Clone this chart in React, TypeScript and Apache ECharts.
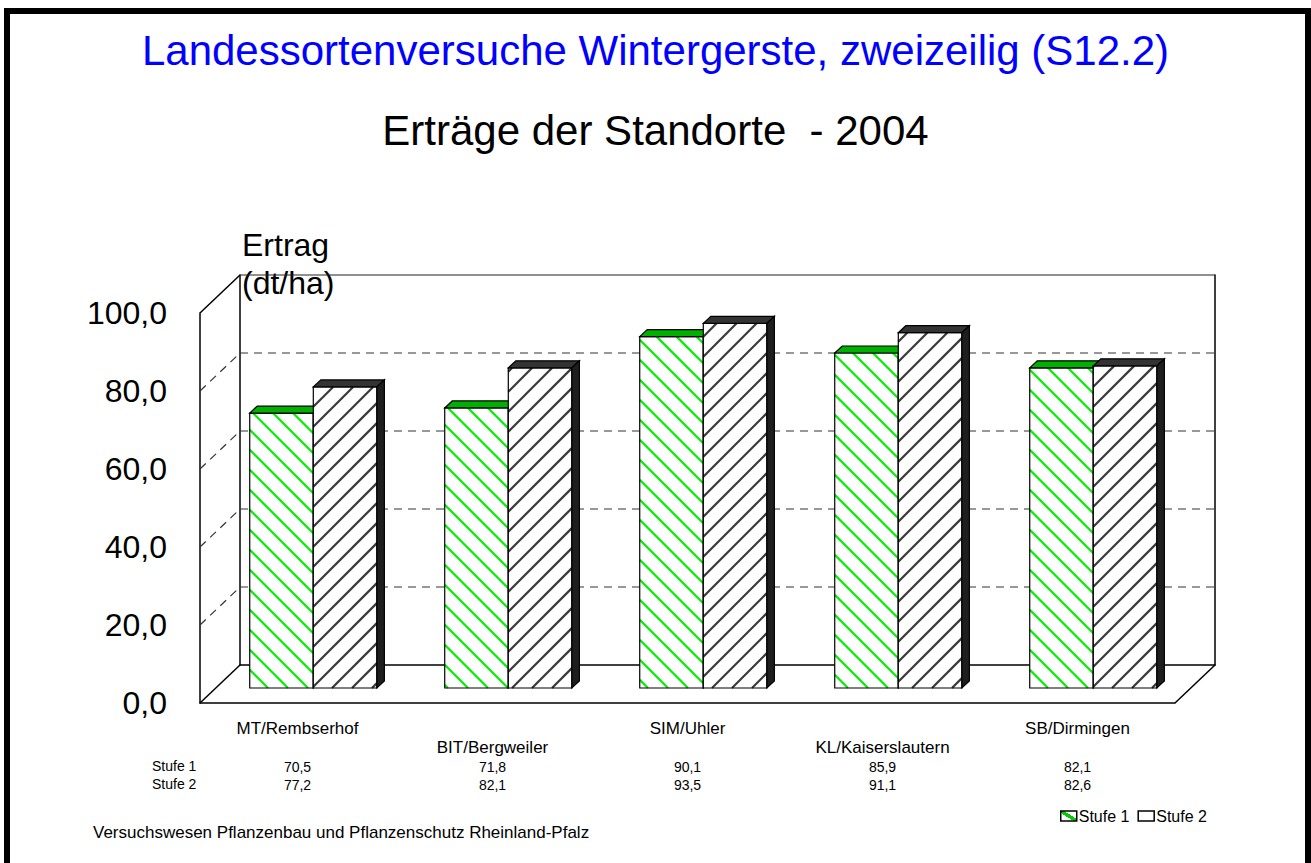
import React, { useEffect, useRef } from 'react';
import * as echarts from 'echarts';

const categories = ['MT/Rembserhof', 'BIT/Bergweiler', 'SIM/Uhler', 'KL/Kaiserslautern', 'SB/Dirmingen'];
const stufe1 = [70.5, 71.8, 90.1, 85.9, 82.1];
const stufe2 = [77.2, 82.1, 93.5, 91.1, 82.6];
const seriesNames = ['Stufe 1', 'Stufe 2'];
const yTicks = [0, 20, 40, 60, 80, 100];
const titleText = 'Landessortenversuche Wintergerste, zweizeilig (S12.2)';
const subtitleText = 'Erträge der Standorte  - 2004';
const yAxisTitle = ['Ertrag', '(dt/ha)'];
const footerText = 'Versuchswesen Pflanzenbau und Pflanzenschutz Rheinland-Pfalz';

const FONT = '"Liberation Sans", Arial, Helvetica, sans-serif';
const FRONT = { left: 200, top: 313, width: 975, height: 390 };
const DX = 40;
const DY = -38;
const FB = 0.395; // depth fraction of the bar plane
const BDX = 7.5;
const BDY = -7;
const BAR_FRAC = 0.326;
const HATCH = 20;

const fmt = (v: number) => v.toFixed(1).replace('.', ',');

function hatchLines(x0: number, y0: number, x1: number, y1: number, dir: 'back' | 'fwd', s: number) {
  const out: number[][] = [];
  if (dir === 'back') {
    const cMin = y0 - x1, cMax = y1 - x0;
    for (let c = Math.ceil(cMin / s) * s; c <= cMax; c += s) {
      const lo = Math.max(x0, y0 - c), hi = Math.min(x1, y1 - c);
      if (hi - lo > 0.5) out.push([lo, lo + c, hi, hi + c]);
    }
  } else {
    const cMin = x0 + y0, cMax = x1 + y1;
    for (let c = Math.ceil(cMin / s) * s; c <= cMax; c += s) {
      const lo = Math.max(x0, c - y1), hi = Math.min(x1, c - y0);
      if (hi - lo > 0.5) out.push([lo, c - lo, hi, c - hi]);
    }
  }
  return out;
}

const seriesStyle = [
  { hatch: '#00F000', dir: 'back' as const, top: '#00B000', side: '#008800' },
  { hatch: '#3A3A3A', dir: 'fwd' as const, top: '#333333', side: '#1E1E1E' },
];

function makeBarRender(si: number) {
  return (params: any, api: any) => {
    const idx = api.value(0);
    const val = api.value(1);
    const [cx, yt] = api.coord([idx, val]);
    const yb = api.coord([idx, 0])[1];
    const band = api.size([1, 0])[0];
    const w = band * BAR_FRAC;
    const xl = si === 0 ? cx - w : cx;
    const xr = xl + w;
    const st = seriesStyle[si];
    const children: any[] = [];
    children.push({ type: 'rect', shape: { x: xl, y: yt, width: w, height: yb - yt }, style: { fill: '#fff', stroke: 'none' } });
    hatchLines(xl, yt, xr, yb, st.dir, HATCH).forEach((l) => {
      children.push({ type: 'line', shape: { x1: l[0], y1: l[1], x2: l[2], y2: l[3] }, style: { stroke: st.hatch, lineWidth: 2.2 } });
    });
    children.push({ type: 'rect', shape: { x: xl, y: yt, width: w, height: yb - yt }, style: { fill: 'none', stroke: '#000', lineWidth: 1.2 } });
    children.push({
      type: 'polygon',
      shape: { points: [[xl, yt], [xr, yt], [xr + BDX, yt + BDY], [xl + BDX, yt + BDY]] },
      style: { fill: st.top, stroke: '#000', lineWidth: 1.2 },
    });
    children.push({
      type: 'polygon',
      shape: { points: [[xr, yt], [xr, yb], [xr + BDX, yb + BDY], [xr + BDX, yt + BDY]] },
      style: { fill: st.side, stroke: '#000', lineWidth: 1.2 },
    });
    return { type: 'group', children };
  };
}

function wallRender(params: any, api: any) {
  const cs = params.coordSys;
  const v = api.value(1);
  const y = api.coord([0, v])[1];
  const first = v === yTicks[0];
  const last = v === yTicks[yTicks.length - 1];
  const solid = first || last;
  const dashed = { stroke: '#333', lineWidth: 1.2, lineDash: [8, 6] };
  const children: any[] = [
    {
      type: 'line',
      shape: { x1: cs.x, y1: y, x2: cs.x + DX, y2: y + DY },
      style: solid ? { stroke: '#000', lineWidth: 1.5 } : dashed,
    },
  ];
  if (!solid) {
    children.push({
      type: 'line',
      shape: { x1: cs.x + DX, y1: y + DY, x2: cs.x + cs.width + DX, y2: y + DY },
      style: dashed,
    });
  }
  if (last) {
    children.push({
      type: 'line',
      shape: { x1: cs.x + DX, y1: y + DY, x2: cs.x + cs.width + DX, y2: y + DY },
      style: { stroke: '#222', lineWidth: 1 },
    });
  }
  if (first) {
    children.push({
      type: 'line',
      shape: { x1: cs.x + cs.width, y1: y, x2: cs.x + cs.width + DX, y2: y + DY },
      style: { stroke: '#000', lineWidth: 1.5 },
    });
  }
  return { type: 'group', children };
}

export default function App() {
  const ref = useRef<HTMLDivElement>(null);
  useEffect(() => {
    if (!ref.current) return;
    const chart = echarts.init(ref.current, null, { renderer: 'svg' });
    const barGrid = { left: FRONT.left + DX * FB, top: FRONT.top + DY * FB, width: FRONT.width, height: FRONT.height };
    const backGrid = { left: FRONT.left + DX, top: FRONT.top + DY, width: FRONT.width, height: FRONT.height };
    const blackLine = { show: true, lineStyle: { color: '#000', width: 1.5 } };
    const legendGrad = new echarts.graphic.LinearGradient(0, 1, 1, 0, [
      { offset: 0, color: '#fff' },
      { offset: 0.4, color: '#fff' },
      { offset: 0.4, color: '#00CC00' },
      { offset: 0.6, color: '#00CC00' },
      { offset: 0.6, color: '#fff' },
      { offset: 1, color: '#fff' },
    ]);
    chart.setOption({
      animation: false,
      backgroundColor: '#fff',
      textStyle: { fontFamily: FONT },
      title: [
        { text: titleText, left: 'center', top: 24, textStyle: { color: '#0000FF', fontSize: 42, fontWeight: 'normal', fontFamily: FONT } },
        { text: subtitleText, left: 'center', top: 104, textStyle: { color: '#000', fontSize: 42, fontWeight: 'normal', fontFamily: FONT } },
      ],
      legend: {
        left: 1055,
        top: 803,
        itemWidth: 16,
        itemHeight: 10,
        itemGap: 8,
        icon: 'rect',
        textStyle: { fontSize: 16, color: '#000', fontFamily: FONT, padding: [0, 0, 0, -3] },
        data: [
          { name: seriesNames[0], itemStyle: { color: legendGrad, borderColor: '#000', borderWidth: 1.5 } },
          { name: seriesNames[1], itemStyle: { color: '#fff', borderColor: '#000', borderWidth: 1.5 } },
        ],
      },
      grid: [
        { ...FRONT, containLabel: false },
        { ...barGrid, containLabel: false },
        { ...backGrid, containLabel: false },
      ],
      xAxis: [
        {
          gridIndex: 0, type: 'category', data: categories, position: 'bottom',
          axisLine: blackLine, axisTick: { show: false },
          axisLabel: {
            interval: 0, fontSize: 17, lineHeight: 19, margin: 16, color: '#000', fontFamily: FONT,
            formatter: (v: string, i: number) => (i % 2 ? '\n' + v : v),
          },
        },
        {
          gridIndex: 0, type: 'category', data: categories, position: 'bottom',
          axisLine: { show: false }, axisTick: { show: false },
          axisLabel: {
            interval: 0, fontSize: 14, lineHeight: 18, margin: 55, color: '#000', fontFamily: FONT,
            formatter: (_v: string, i: number) => fmt(stufe1[i]) + '\n' + fmt(stufe2[i]),
          },
        },
        { gridIndex: 1, type: 'category', data: categories, show: false },
        {
          gridIndex: 2, type: 'category', data: categories, position: 'bottom',
          axisLine: blackLine, axisTick: { show: false }, axisLabel: { show: false },
        },
      ],
      yAxis: [
        {
          gridIndex: 0, type: 'value', min: 0, max: 100, interval: 20,
          axisLine: blackLine, axisTick: { show: false }, splitLine: { show: false },
          axisLabel: { fontSize: 32, margin: 33, color: '#000', fontFamily: FONT, formatter: (v: number) => fmt(v) },
        },
        { gridIndex: 1, type: 'value', min: 0, max: 100, interval: 20, show: false },
        {
          gridIndex: 2, type: 'value', min: 0, max: 100, interval: 20, position: 'left',
          axisLine: blackLine, axisTick: { show: false }, axisLabel: { show: false }, splitLine: { show: false },
        },
        {
          gridIndex: 2, type: 'value', min: 0, max: 100, interval: 20, position: 'right',
          axisLine: blackLine, axisTick: { show: false }, axisLabel: { show: false }, splitLine: { show: false },
        },
      ],
      series: [
        {
          type: 'custom', name: 'walls', xAxisIndex: 0, yAxisIndex: 0, silent: true, z: 1, clip: false,
          data: yTicks.map((v) => [0, v]), renderItem: wallRender,
        },
        {
          type: 'custom', name: seriesNames[0], xAxisIndex: 2, yAxisIndex: 1, z: 3, clip: false,
          itemStyle: { color: '#fff', borderColor: '#000' },
          data: stufe1.map((v, i) => [i, v]), renderItem: makeBarRender(0),
        },
        {
          type: 'custom', name: seriesNames[1], xAxisIndex: 2, yAxisIndex: 1, z: 4, clip: false,
          itemStyle: { color: '#fff', borderColor: '#000' },
          data: stufe2.map((v, i) => [i, v]), renderItem: makeBarRender(1),
        },
      ],
      graphic: [
        { type: 'rect', z: 100, shape: { x: 7, y: 11, width: 1301, height: 870 }, style: { fill: 'none', stroke: '#000', lineWidth: 6 } },
        { type: 'text', left: 242, top: 226, style: { text: yAxisTitle.join('\n'), fontSize: 32, lineHeight: 38, fill: '#000', fontFamily: FONT } },
        { type: 'text', left: 152, top: 757, style: { text: seriesNames.join('\n'), fontSize: 14, lineHeight: 18, fill: '#000', fontFamily: FONT } },
        { type: 'text', left: 93, top: 824, style: { text: footerText, fontSize: 17, fill: '#000', fontFamily: FONT } },
      ],
    });
    return () => chart.dispose();
  }, []);
  return <div ref={ref} style={{ position: 'absolute', left: 0, top: 0, width: 1311, height: 863 }} />;
}
